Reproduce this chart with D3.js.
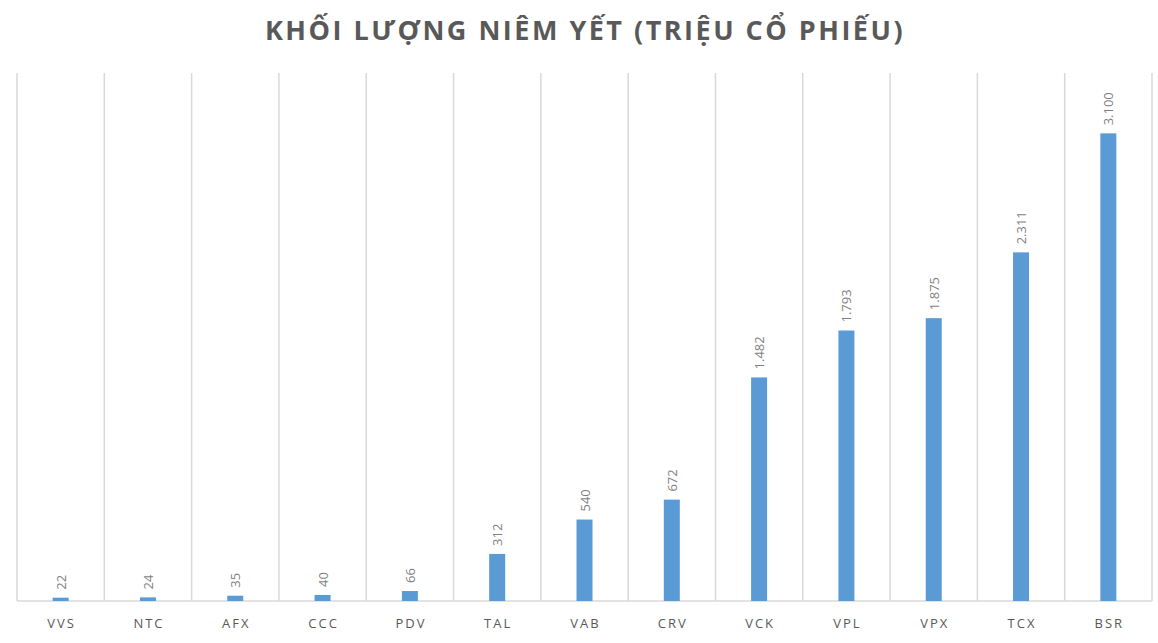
<!DOCTYPE html>
<html>
<head>
<meta charset="utf-8">
<script src="https://cdn.jsdelivr.net/npm/d3@7"></script>
<style>
  body { margin: 0; background: #fff; }
  svg { font-family: "Open Sans", "Liberation Sans", sans-serif; }
</style>
</head>
<body>
<svg id="chart" width="1158" height="643"></svg>
<script>
// Data
const tickers = ["VVS", "NTC", "AFX", "CCC", "PDV", "TAL", "VAB", "CRV", "VCK", "VPL", "VPX", "TCX", "BSR"];
const volumes = [22, 24, 35, 40, 66, 312, 540, 672, 1482, 1793, 1875, 2311, 3100];
const titleText = "KHỐI LƯỢNG NIÊM YẾT (TRIỆU CỔ PHIẾU)";

const svg = d3.select("#chart");
const plotLeft = 17, plotRight = 1152, plotTop = 73, plotBottom = 601;

const x = d3.scaleBand().domain(tickers).range([plotLeft, plotRight]);
const y = d3.scaleLinear().domain([0, 3500]).range([plotBottom, plotTop]);
const fmt = (v) => d3.format(",")(v).replace(/,/g, ".");

svg.append("text")
  .attr("x", 1158 / 2 + 6)
  .attr("y", 40)
  .attr("text-anchor", "middle")
  .attr("font-size", 27)
  .attr("font-weight", "bold")
  .attr("letter-spacing", 2.5)
  .attr("fill", "#595959")
  .text(titleText);

// vertical gridlines at category boundaries
const bounds = tickers.map((t) => x(t)).concat([plotRight]);
svg.append("g")
  .selectAll("line")
  .data(bounds)
  .join("line")
  .attr("x1", (d) => d).attr("x2", (d) => d)
  .attr("y1", plotTop).attr("y2", plotBottom)
  .attr("stroke", "#d9d9d9")
  .attr("stroke-width", 1.5);

// baseline
svg.append("line")
  .attr("x1", plotLeft).attr("x2", plotRight)
  .attr("y1", plotBottom).attr("y2", plotBottom)
  .attr("stroke", "#d9d9d9")
  .attr("stroke-width", 1.5);

const barW = 16;
svg.append("g")
  .selectAll("rect")
  .data(tickers)
  .join("rect")
  .attr("x", (d) => x(d) + x.bandwidth() / 2 - barW / 2)
  .attr("width", barW)
  .attr("y", (d, i) => y(volumes[i]))
  .attr("height", (d, i) => plotBottom - y(volumes[i]))
  .attr("fill", "#5b9bd5");

// value labels (rotated)
svg.append("g")
  .selectAll("text")
  .data(tickers)
  .join("text")
  .attr("transform", (d, i) => `translate(${x(d) + x.bandwidth() / 2 + 5},${y(volumes[i]) - 8}) rotate(-90)`)
  .attr("font-size", 13)
  .attr("fill", "#7f7f7f")
  .text((d, i) => fmt(volumes[i]));

// category labels
svg.append("g")
  .selectAll("text")
  .data(tickers)
  .join("text")
  .attr("x", (d) => x(d) + x.bandwidth() / 2 + 1)
  .attr("y", 628)
  .attr("text-anchor", "middle")
  .attr("font-size", 13)
  .attr("letter-spacing", 2)
  .attr("fill", "#595959")
  .text((d) => d);
</script>
</body>
</html>
